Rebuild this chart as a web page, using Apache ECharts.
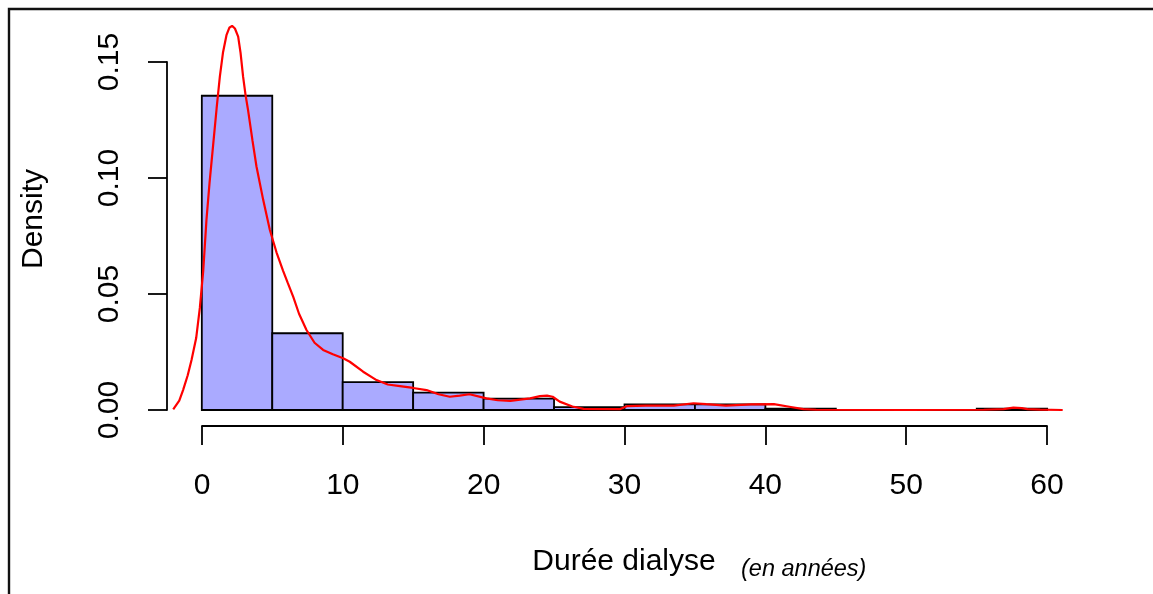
<!DOCTYPE html>
<html>
<head>
<meta charset="utf-8">
<script src="https://cdn.jsdelivr.net/npm/echarts@6/dist/echarts.min.js"></script>
<style>
  html, body { margin: 0; padding: 0; background: #ffffff; }
  #chart { width: 1153px; height: 594px; }
</style>
</head>
<body>
<div id="chart"></div>
<script>
// Histogram of dialysis duration (years), bins of width 5, density scale
const binStarts = [0, 5, 10, 15, 20, 25, 30, 35, 40, 45, 50, 55];
const binWidth = 5;
const binDensity = [0.1355, 0.0331, 0.0120, 0.0075, 0.0049, 0.0012, 0.0024, 0.0024, 0.0006, 0, 0, 0.0006];

// Kernel density estimate overlay: x (years) and density
const kdeX = [-2.03, -1.6, -1.33, -1.0, -0.73, -0.4, -0.14, 0.1, 0.33, 0.55, 0.8, 1.05, 1.28, 1.5, 1.75, 1.95, 2.15, 2.35, 2.58, 2.75, 2.93, 3.1, 3.29, 3.6, 3.88, 4.36, 4.83, 5.3, 5.77, 6.1, 6.49, 6.9, 7.43, 8.0, 8.61, 9.3, 10.03, 10.5, 11.45, 12.4, 13.2, 14.06, 15.0, 15.95, 16.8, 17.6, 18.3, 19.0, 20.2, 21.0, 21.9, 23.3, 24.0, 24.5, 24.9, 25.4, 26.3, 27.1, 29.7, 30.2, 31.5, 33.5, 34.9, 35.8, 37.2, 39.0, 40.6, 41.7, 42.7, 43.6, 50.0, 55.5, 56.9, 57.6, 58.2, 58.6, 59.5, 61.1];
const kdeY = [0.0003, 0.004, 0.0086, 0.015, 0.0216, 0.031, 0.044, 0.060, 0.082, 0.098, 0.114, 0.130, 0.1437, 0.154, 0.1616, 0.1648, 0.1656, 0.1645, 0.161, 0.154, 0.1437, 0.136, 0.129, 0.116, 0.105, 0.0905, 0.0776, 0.068, 0.060, 0.0548, 0.0488, 0.0415, 0.0345, 0.029, 0.0259, 0.024, 0.0223, 0.0208, 0.0165, 0.0129, 0.0110, 0.0103, 0.0095, 0.0086, 0.0068, 0.0057, 0.0062, 0.0068, 0.0050, 0.0042, 0.0039, 0.0050, 0.0060, 0.0062, 0.0057, 0.0036, 0.0015, 0.0005, 0.0004, 0.0017, 0.0019, 0.0019, 0.0029, 0.0025, 0.0019, 0.0024, 0.0025, 0.0014, 0.0004, 0.0001, 0.0000, 0.0001, 0.0004, 0.0010, 0.0008, 0.0004, 0.0002, 0.0];

// Axis ticks
const xTicks = [0, 10, 20, 30, 40, 50, 60];
const yTicks = [0, 0.05, 0.10, 0.15];

const FONT = '"Liberation Sans", Arial, sans-serif';

const histData = binStarts.map((s, i) => [s, s + binWidth, binDensity[i]]);
const kdeData = kdeX.map((x, i) => [x, kdeY[i]]);

const chart = echarts.init(document.getElementById('chart'), null, { renderer: 'canvas' });

const option = {
  backgroundColor: '#ffffff',
  animation: false,
  grid: [
    // plotting region
    { left: 168, top: 12, width: 913, height: 414 },
    // x axis (spans 0..60 only)
    { left: 202, top: 12, width: 845, height: 414 },
    // y axis (spans 0..0.15 only)
    { left: 167, top: 62, width: 1, height: 348 }
  ],
  xAxis: [
    { gridIndex: 0, type: 'value', min: -2.4, max: 62.4, show: false },
    {
      gridIndex: 1, type: 'value', min: xTicks[0], max: xTicks[xTicks.length - 1], interval: 10,
      axisLine: { show: true, lineStyle: { color: '#000', width: 1.8 } },
      axisTick: { show: true, inside: false, length: 19, lineStyle: { color: '#000', width: 1.8 } },
      axisLabel: { show: true, margin: 45, color: '#000', fontSize: 30, fontFamily: FONT },
      splitLine: { show: false }
    },
    { gridIndex: 2, type: 'value', min: 0, max: 1, show: false }
  ],
  yAxis: [
    { gridIndex: 0, type: 'value', min: -0.0069, max: 0.1716, show: false },
    { gridIndex: 1, type: 'value', min: 0, max: 1, show: false },
    {
      gridIndex: 2, type: 'value', min: yTicks[0], max: yTicks[yTicks.length - 1], interval: 0.05,
      axisLine: { show: true, lineStyle: { color: '#000', width: 1.8 } },
      axisTick: { show: true, inside: false, length: 19, lineStyle: { color: '#000', width: 1.8 } },
      axisLabel: {
        show: true, rotate: 90, margin: 57, color: '#000', fontSize: 30, fontFamily: FONT,
        verticalAlign: 'middle', align: 'center',
        formatter: v => v.toFixed(2)
      },
      splitLine: { show: false }
    }
  ],
  graphic: [
    // outer frame (top and left edges)
    {
      type: 'polyline', silent: true,
      shape: { points: [[9, 594], [9, 9], [1153, 9]] },
      style: { stroke: '#111', lineWidth: 2.4, fill: null }
    },
    {
      type: 'text', x: 624, y: 562,
      style: { text: 'Durée dialyse', font: '30px ' + FONT, fill: '#000', align: 'center', verticalAlign: 'middle' }
    },
    {
      type: 'text', x: 741, y: 569,
      style: { text: '(en années)', font: 'italic 23.5px ' + FONT, fill: '#000', align: 'left', verticalAlign: 'middle' }
    },
    {
      type: 'text', x: 34, y: 219, rotation: Math.PI / 2,
      style: { text: 'Density', font: '30px ' + FONT, fill: '#000', align: 'center', verticalAlign: 'middle' }
    }
  ],
  series: [
    {
      type: 'custom',
      xAxisIndex: 0, yAxisIndex: 0,
      data: histData,
      encode: { x: [0, 1], y: 2 },
      renderItem: function (params, api) {
        const p0 = api.coord([api.value(0), api.value(2)]);
        const p1 = api.coord([api.value(1), 0]);
        return {
          type: 'rect',
          shape: { x: p0[0], y: p0[1], width: p1[0] - p0[0], height: p1[1] - p0[1] },
          style: { fill: '#aaaaff', stroke: '#000', lineWidth: 1.8 }
        };
      }
    },
    {
      type: 'line',
      xAxisIndex: 0, yAxisIndex: 0,
      data: kdeData,
      showSymbol: false,
      smooth: false,
      lineStyle: { color: '#ff0000', width: 2.2 }
    }
  ]
};

chart.setOption(option);
</script>
</body>
</html>
